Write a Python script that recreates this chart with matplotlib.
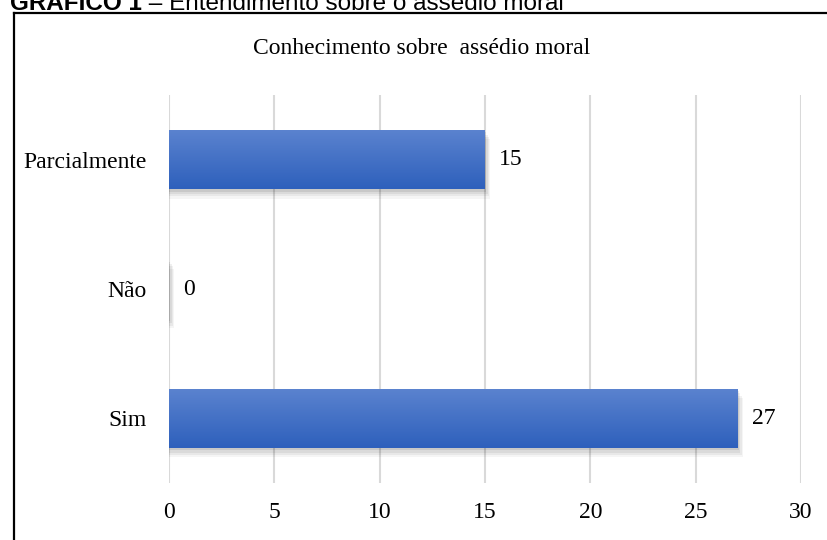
import numpy as np
import matplotlib
matplotlib.use("Agg")
import matplotlib.pyplot as plt
from matplotlib.lines import Line2D
from matplotlib.patches import Rectangle

categories = ["Sim", "Não", "Parcialmente"]
values = [27, 0, 15]
x_ticks = [0, 5, 10, 15, 20, 25, 30]
title = "Conhecimento sobre  assédio moral"
caption_bold = "GRÁFICO 1"
caption_rest = " – Entendimento sobre o assédio moral"

W, H = 828, 540
fig = plt.figure(figsize=(W / 100, H / 100), dpi=100)
fig.patch.set_facecolor("white")

serif = ["Liberation Serif", "DejaVu Serif"]
FS = 17

# document frame (left and top border)
fig.add_artist(Line2D([14 / W, 14 / W], [0, 1 - 13 / H], color="black", lw=1.6,
                      transform=fig.transFigure))
fig.add_artist(Line2D([14 / W, 1], [1 - 13 / H, 1 - 13 / H], color="black", lw=1.6,
                      transform=fig.transFigure))

# caption (partially cut off at top, as in the reference)
t1 = fig.text(10 / W, 1 - 10 / H, caption_bold, fontsize=17.5, fontweight="bold",
              family=["Liberation Sans", "DejaVu Sans"], va="baseline", ha="left")
fig.canvas.draw()
bb = t1.get_window_extent()
fig.text(bb.x1 / W, 1 - 10 / H, caption_rest, fontsize=17.5,
         family=["Liberation Sans", "DejaVu Sans"], va="baseline", ha="left")

ax = fig.add_axes([169 / W, 1 - 483 / H, 632 / W, 388 / H])
ax.set_xlim(0, 30)
ax.set_ylim(-0.5, 2.5)
ax.set_xticks(x_ticks)
ax.set_xticklabels([str(t) for t in x_ticks], fontsize=FS, family=serif)
ypos = np.arange(len(categories))
ax.set_yticks(ypos)
ax.set_yticklabels(categories, fontsize=FS, family=serif)
ax.tick_params(length=0)
ax.tick_params(axis="y", pad=16)
ax.tick_params(axis="x", pad=14)
for s in ax.spines.values():
    s.set_visible(False)
ax.grid(axis="x", color="#d9d9d9", lw=1.5)
ax.set_axisbelow(True)

bh = 0.46
grad = np.linspace(0, 1, 100).reshape(-1, 1)
top_c = np.array([0x5B, 0x83, 0xCF]) / 255
bot_c = np.array([0x2E, 0x60, 0xBC]) / 255
img = top_c[None, None, :] * (1 - grad[:, :, None]) + bot_c[None, None, :] * grad[:, :, None]

for y, v in zip(ypos, values):
    # soft shadow
    for k, a in enumerate([0.04, 0.05, 0.06, 0.08]):
        off = (4 - k) * 0.06
        ax.add_patch(Rectangle((0, y - bh / 2 - off * 0.3), v + off, bh,
                               facecolor="black", alpha=a, lw=0, zorder=2))
    if v > 0:
        bar = ax.barh(y, v, height=bh, color="#4472C4", zorder=3)[0]
        im = ax.imshow(img, extent=(0, v, y - bh / 2, y + bh / 2), aspect="auto",
                       zorder=4, origin="upper")
        im.set_clip_path(bar)
    ax.text(v + 0.68, y, str(v), va="center", ha="left", fontsize=FS, family=serif,
            zorder=5)

ax.set_xlim(0, 30)
ax.set_ylim(-0.5, 2.5)

fig.text(422 / W, 1 - 48 / H, title, ha="center", va="center", fontsize=FS, family=serif)

fig.savefig("out.png", dpi=100, facecolor="white")
